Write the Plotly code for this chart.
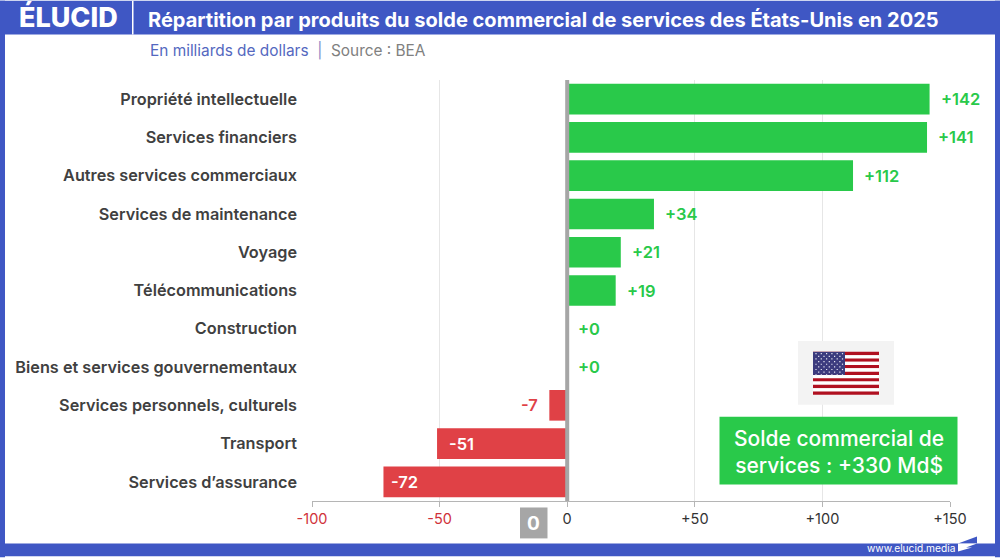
import plotly.graph_objects as go

categories = ["Propriété intellectuelle", "Services financiers", "Autres services commerciaux",
              "Services de maintenance", "Voyage", "Télécommunications", "Construction",
              "Biens et services gouvernementaux", "Services personnels, culturels",
              "Transport", "Services d’assurance"]
values = [142, 141, 112, 34, 21, 19, 0, 0, -7, -51, -72]
tick_values = [-100, -50, 0, 50, 100, 150]
tick_labels = ["-100", "-50", "0", "+50", "+100", "+150"]
tick_colors = ["#d0313a", "#d0313a", "#333333", "#333333", "#333333", "#333333"]

BLUE = "#3f57c4"
GREEN = "#29c94a"
RED = "#e04146"
FONT = "Inter"
W, H = 1000, 558
L, R, T, B = 312, 50, 79.5, 56.5


def px(x):
    return (x - L) / (W - L - R)


def py(y):
    return (H - B - y) / (H - T - B)


def rect(x0, y0, x1, y1, color, layer="above"):
    return dict(type="rect", xref="paper", yref="paper", x0=px(x0), x1=px(x1), y0=py(y0), y1=py(y1),
                fillcolor=color, line_width=0, layer=layer)


def note(x, y, text, size, color, anchor="left", weight=400):
    return dict(xref="paper", yref="paper", x=px(x), y=py(y), text=text, showarrow=False, xanchor=anchor,
                yanchor="middle", font=dict(family=FONT, size=size, color=color, weight=weight))


fig = go.Figure(go.Bar(
    x=values, y=categories, orientation="h", width=0.8,
    marker=dict(color=[GREEN if v >= 0 else RED for v in values], line_width=0),
    hoverinfo="x+y",
))

# Page frame and header band
shapes = [
    rect(0, 0, 1000, 34, BLUE),
    rect(0, 0, 5, 558, BLUE),
    rect(995, 0, 1000, 558, BLUE),
    rect(0, 544, 1000, 557, BLUE),
    rect(132, 0, 133.5, 34, "white"),
    dict(type="line", xref="x", yref="paper", x0=0, x1=0, y0=0, y1=1,
         line=dict(color="#a6a6a6", width=4), layer="above"),
    rect(520, 508, 547.5, 539, "#a6a6a6"),
    # Flag panel
    rect(798, 341, 894, 405, "#f3f3f3"),
]

# US flag: alternating stripes, canton and rows of stars
fx0, fx1, fy0, fy1 = 813, 879, 352, 395
stripe_h = (fy1 - fy0) / 13
for i in range(13):
    shapes.append(rect(fx0, fy0 + i * stripe_h, fx1, fy0 + (i + 1) * stripe_h,
                       "#b01020" if i % 2 == 0 else "white"))
shapes.append(rect(fx0, fy0, 845, fy0 + 7 * stripe_h, "#3c3b7e"))
for row in range(9):
    count = 6 if row % 2 == 0 else 5
    offset = 3 if row % 2 == 0 else 5.7
    for col in range(count):
        cx = fx0 + offset + col * 5.3
        cy = fy0 + 1.8 + row * 2.65
        shapes.append(rect(cx - 0.6, cy - 0.6, cx + 0.6, cy + 0.6, "#e8e8f4"))

# Summary box
shapes.append(rect(719.5, 417, 957.5, 485, GREEN))

# Pennant beside the site address: blue above the band, white within it
shapes.append(dict(type="path", xref="paper", yref="paper", fillcolor=BLUE, line_width=0, layer="above",
                   path="M {} {} L {} {} L {} {} Z".format(px(958), py(544), px(977), py(537), px(977), py(544))))
shapes.append(dict(type="path", xref="paper", yref="paper", fillcolor="white", line_width=0, layer="above",
                   path="M {} {} L {} {} L {} {} L {} {} L {} {} Z".format(
                       px(958), py(544), px(977), py(544), px(966), py(548), px(972), py(548), px(958), py(552))))

annotations = [
    note(17, 17, "ÉLUCID", 27, "white", weight=800),
    note(146, 19, "Répartition par produits du solde commercial de services des États-Unis en 2025",
         20.05, "white", weight=700),
    note(148, 50, "<span style='color:#5468c0'>En milliards de dollars</span>"
                  "<span style='color:#7f8ac8'>  |  </span>"
                  "<span style='color:#808080'>Source : BEA</span>", 15.4, "#808080"),
    note(533.7, 524, "0", 19, "white", anchor="center", weight=700),
    note(838.5, 452, "Solde commercial de<br>services : +330 Md$", 21, "white", anchor="center", weight=500),
    note(865, 549, "www.elucid.media", 10.2, "white"),
]

# Value labels: tall negative bars carry theirs inside, the rest sit beyond the bar end
for cat, v in zip(categories, values):
    text = f"+{v}" if v >= 0 else str(v)
    if v >= 0:
        color, anchor, shift = GREEN, "left", 9
    elif v > -20:
        color, anchor, shift = RED, "right", -9
    else:
        color, anchor, shift = "white", "left", 10 if v == -51 else 6
    annotations.append(dict(x=v, y=cat, xref="x", yref="y", text=text, showarrow=False, xanchor=anchor,
                            xshift=shift, font=dict(family=FONT, size=16.5, color=color, weight=600)))

fig.update_layout(
    width=W, height=H, margin=dict(l=L, r=R, t=T, b=B, pad=0),
    paper_bgcolor="white", plot_bgcolor="white", showlegend=False,
    font=dict(family=FONT), shapes=shapes, annotations=annotations,
    bargap=0.2,
    xaxis=dict(
        range=[-100, 150], tickvals=tick_values,
        ticktext=[f"<span style='color:{c}'>{t}</span>" for t, c in zip(tick_labels, tick_colors)],
        tickfont=dict(family=FONT, size=14.5), ticks="outside", ticklen=5, tickcolor="#b5b5b5",
        showgrid=True, gridcolor="#e6e6e6", gridwidth=1, zeroline=False,
        showline=True, linecolor="#b5b5b5", linewidth=1,
    ),
    yaxis=dict(
        categoryorder="array", categoryarray=categories[::-1], range=[-0.5, 10.5],
        tickfont=dict(family=FONT, size=16.25, color="#404040", weight=600),
        ticks="", showgrid=False, zeroline=False, showline=False, ticklabelstandoff=14,
    ),
)

fig.write_html("out.html")
